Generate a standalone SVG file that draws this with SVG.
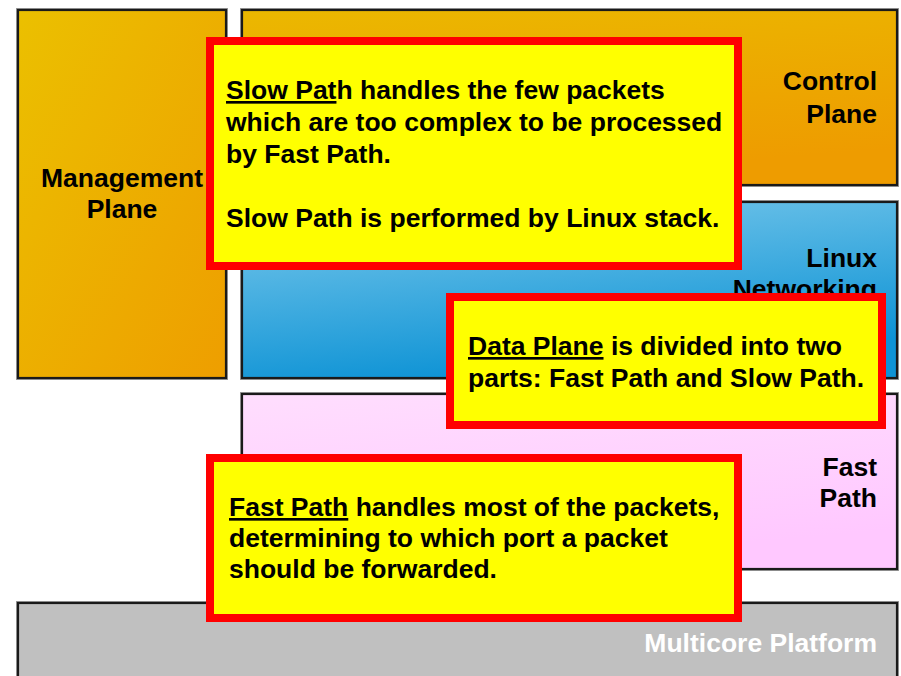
<svg xmlns="http://www.w3.org/2000/svg" width="901" height="676" viewBox="0 0 901 676">
  <defs>
    <linearGradient id="gOrangeTall" x1="0" y1="0" x2="1" y2="1">
      <stop offset="0" stop-color="#EBC000"/>
      <stop offset="1" stop-color="#EE9E00"/>
    </linearGradient>
    <linearGradient id="gOrangeWide" x1="0" y1="0" x2="0.3" y2="1">
      <stop offset="0" stop-color="#EBB800"/>
      <stop offset="1" stop-color="#EE9C00"/>
    </linearGradient>
    <linearGradient id="gBlue" x1="0" y1="0" x2="0.35" y2="1">
      <stop offset="0" stop-color="#7DCAEC"/>
      <stop offset="1" stop-color="#0E93D5"/>
    </linearGradient>
    <linearGradient id="gPink" x1="0" y1="0" x2="0.35" y2="1">
      <stop offset="0" stop-color="#FFDEFE"/>
      <stop offset="1" stop-color="#FFC8FF"/>
    </linearGradient>
  </defs>
  <style>
    .box { stroke: #1a1a1a; stroke-width: 2.2; }
    .shadow { fill: none; stroke: #9a9a9a; stroke-width: 4; }
    .lbl { font-family: "Liberation Sans", Arial, sans-serif; font-weight: bold; font-size: 26.5px; fill: #000; }
    .end { text-anchor: end; }
    .mid { text-anchor: middle; }
    .white { fill: #ffffff; }
    .callout { fill: #FFFF00; stroke: #FF0000; stroke-width: 8; }
    .ct { font-family: "Liberation Sans", Arial, sans-serif; font-weight: bold; font-size: 26.5px; fill: #000; }
    .u { text-decoration: underline; }
  </style>

  <g id="management-plane">
    <rect class="shadow" x="18" y="10" width="208" height="368"/>
    <rect class="box" x="18" y="10" width="208" height="368" fill="url(#gOrangeTall)"/>
    <text class="lbl mid" x="122" y="187">Management</text>
    <text class="lbl mid" x="122" y="218">Plane</text>
  </g>

  <g id="control-plane">
    <rect class="shadow" x="242" y="10" width="655" height="175"/>
    <rect class="box" x="242" y="10" width="655" height="175" fill="url(#gOrangeWide)"/>
    <text class="lbl end" x="877" y="90">Control</text>
    <text class="lbl end" x="877" y="123">Plane</text>
  </g>

  <g id="linux-networking">
    <rect class="shadow" x="242" y="202" width="655" height="176"/>
    <rect class="box" x="242" y="202" width="655" height="176" fill="url(#gBlue)"/>
    <text class="lbl end" x="877" y="267">Linux</text>
    <text class="lbl end" x="877" y="298">Networking</text>
  </g>

  <g id="fast-path">
    <rect class="shadow" x="242" y="394" width="655" height="175"/>
    <rect class="box" x="242" y="394" width="655" height="175" fill="url(#gPink)"/>
    <text class="lbl end" x="877" y="476">Fast</text>
    <text class="lbl end" x="877" y="507">Path</text>
  </g>

  <g id="multicore-platform">
    <rect class="shadow" x="18" y="603" width="879" height="90"/>
    <rect class="box" x="18" y="603" width="879" height="90" fill="#C0C0C0"/>
    <text class="lbl end white" x="877" y="652">Multicore Platform</text>
  </g>

  <g id="connectors"></g>

  <g id="callout-slow-path">
    <rect class="callout" x="210" y="41" width="528" height="225"/>
    <text class="ct" x="226" y="99"><tspan class="u">Slow Pat</tspan>h handles the few packets</text>
    <text class="ct" x="226" y="131">which are too complex to be processed</text>
    <text class="ct" x="226" y="163">by Fast Path.</text>
    <text class="ct" x="226" y="227">Slow Path is performed by Linux stack.</text>
  </g>

  <g id="callout-data-plane">
    <rect class="callout" x="450" y="297" width="432" height="128"/>
    <text class="ct" x="468" y="355"><tspan class="u">Data Plane</tspan> is divided into two</text>
    <text class="ct" x="468" y="387">parts: Fast Path and Slow Path.</text>
  </g>

  <g id="callout-fast-path">
    <rect class="callout" x="210" y="458" width="528" height="160"/>
    <text class="ct" x="229" y="516"><tspan class="u">Fast Path</tspan> handles most of the packets,</text>
    <text class="ct" x="229" y="547">determining to which port a packet</text>
    <text class="ct" x="229" y="578">should be forwarded.</text>
  </g>
</svg>
